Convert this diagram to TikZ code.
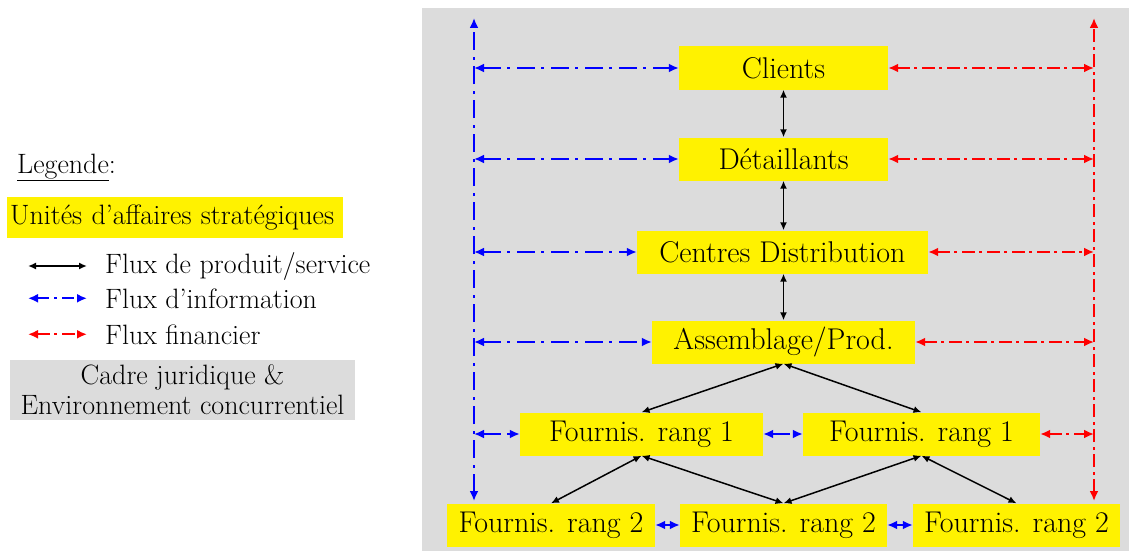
\documentclass[tikz,border=0pt]{standalone}
\usepackage{fontspec}
\usetikzlibrary{arrows.meta,positioning}
\definecolor{fond}{RGB}{220,220,220}

\begin{document}
\begin{tikzpicture}[x=1pt,y=-1pt]
		\tikzset{unite/.style={fill=yellow,
				minimum height=43pt,
				inner sep=0pt,
				font=\fontsize{30}{32}\selectfont},
			legende/.style={font=\fontsize{28}{30}\selectfont},
			produit/.style={{Latex[length=8pt,width=7pt]}-{Latex[length=8pt,width=7pt]},
				line width=1.5pt, black},
			info/.style={{Latex[length=10pt,width=9pt]}-{Latex[length=10pt,width=9pt]},
				line width=2pt, blue,
				dash pattern=on 18pt off 6pt on 3pt off 7pt},
			finance/.style={{Latex[length=10pt,width=9pt]}-{Latex[length=10pt,width=9pt]},
				line width=2pt, red,
				dash pattern=on 13pt off 4pt on 3pt off 5pt}}

		\useasboundingbox (0,0) rectangle (1129,551);
		\fill[fond] (422,8) rectangle (1129,551);

		% Draw the units
		\node[unite, minimum width=209pt] at (783.5,68) (clients) {Clients};
		\node[unite, minimum width=209pt] at (783.5,159) (detail) {Détaillants};
		\node[unite, minimum width=291pt] at (782.5,252) (centres) {Centres Distribution};
		\node[unite, minimum width=263pt] at (783.5,342) (assemb) {Assemblage/Prod.};
		\node[unite, minimum width=243pt] at (641.5,434) (fa) {Fournis. rang 1};
		\node[unite, minimum width=237pt] at (921.5,434) (fb) {Fournis. rang 1};
		\node[unite, minimum width=208pt] at (551,525) (sa) {Fournis. rang 2};
		\node[unite, minimum width=207pt] at (783.5,525) (sb) {Fournis. rang 2};
		\node[unite, minimum width=207pt] at (1016.5,525) (sc) {Fournis. rang 2};

		% Side axes
		\coordinate (infohaut) at (474,18);
		\coordinate (infobas) at (474,501);
		\coordinate (finhaut) at (1094,18);
		\coordinate (finbas) at (1094,501);

		% Product flows
		\draw[produit] (clients.south) -- (detail.north);
		\draw[produit] (detail.south) -- (detail.south |- centres.north);
		\draw[produit] (detail.south |- centres.south) -- (assemb.north);
		\draw[produit] (assemb.south) -- (fa.north);
		\draw[produit] (assemb.south) -- (fb.north);
		\draw[produit] (fa.south) -- (sa.north);
		\draw[produit] (fa.south) -- (sb.north);
		\draw[produit] (fb.south) -- (sb.north);
		\draw[produit] (fb.south) -- (sc.north);

		% Information flows
		\draw[info] (infobas) -- (infohaut);
		\draw[info] (infohaut |- clients) -- (clients.west);
		\draw[info] (infohaut |- detail) -- (detail.west);
		\draw[info] (infohaut |- centres) -- (centres.west);
		\draw[info] (infohaut |- assemb) -- (assemb.west);
		\draw[info] (infohaut |- fa) -- (fa.west);
		\draw[info] (fa.east) -- (fb.west);
		\draw[info] (sa.east) -- (sb.west);
		\draw[info] (sb.east) -- (sc.west);

		% Financial flows
		\draw[finance] (finbas) -- (finhaut);
		\draw[finance] (clients.east) -- (finhaut |- clients);
		\draw[finance] (detail.east) -- (finhaut |- detail);
		\draw[finance] (centres.east) -- (finhaut |- centres);
		\draw[finance] (assemb.east) -- (finhaut |- assemb);
		\draw[finance] (fb.east) -- (finhaut |- fb);

		% Legend
		\node[legende, anchor=base west, inner sep=0pt] at (17,173) (titre) {\underline{Legende}:};
		\node[legende, fill=yellow, anchor=west, minimum height=41pt, inner ysep=0pt,
			inner xsep=3pt, text width=330pt, align=left] at (7,217.5) (usa) {Unités d’affaires stratégiques};
		\node[legende, anchor=base west, inner sep=0pt] at (105,273) (lprod) {Flux de produit/service};
		\node[legende, anchor=base west, inner sep=0pt] at (105,308) (linfo) {Flux d’information};
		\node[legende, anchor=base west, inner sep=0pt] at (105,344) (lfin) {Flux financier};
		\draw[produit, line width=2pt] ([xshift=-77pt]lprod.west) -- ([xshift=-18pt]lprod.west);
		\draw[info, dash pattern=on 12pt off 5pt on 3pt off 5pt] ([xshift=-77pt]linfo.west) -- ([xshift=-18pt]linfo.west);
		\draw[finance] ([xshift=-77pt]lfin.west) -- ([xshift=-18pt]lfin.west);
		\node[legende, fill=fond, align=center, minimum width=345pt, minimum height=60pt,
			inner sep=0pt] at (182.5,390) (cadre) {Cadre juridique \&\\Environnement concurrentiel};

\end{tikzpicture}
\end{document}
